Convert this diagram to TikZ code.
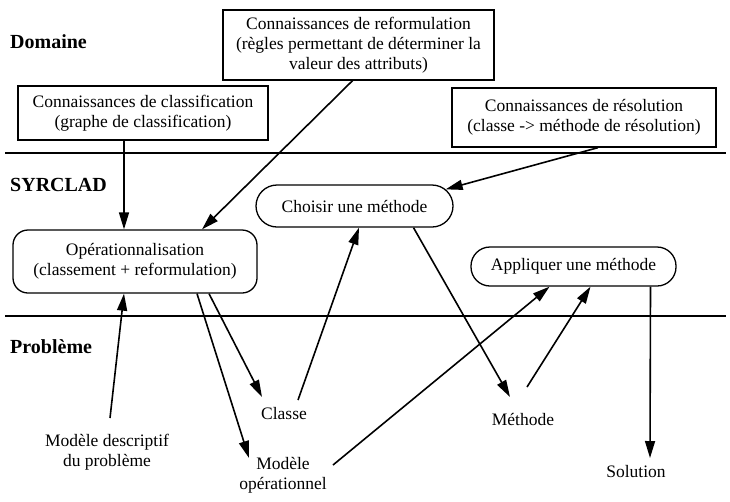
\documentclass[tikz,border=0pt]{standalone}
\usepackage{fontspec}
\setmainfont{Liberation Serif}
\usetikzlibrary{arrows.meta}

\tikzset{
  box/.style={draw, line width=1.3pt, align=center, inner sep=2pt, font=\rmfamily\fontsize{17.5}{20}\selectfont},
  rbox/.style={box, rounded corners=#1},
  txt/.style={align=center, font=\rmfamily\fontsize{17.5}{20}\selectfont},
  lbl/.style={anchor=west, inner sep=0pt, font=\rmfamily\fontsize{20}{24}\selectfont\bfseries},
  arr/.style={->, line width=1.6pt},
}

\begin{document}
\begin{tikzpicture}[x=1pt, y=-1pt, >={Triangle[length=17pt,width=10pt]}]
		\useasboundingbox (0,0) rectangle (730,501);
		% draw the layers
		\draw [line width=1.2pt] (5,153) -- (726,153);
		\draw [line width=1.2pt] (5,316) -- (726,316);
		\node[lbl] (dom) at (10,42) {Domaine};
		\node[lbl] (syr) at (10,185) {SYRCLAD};
		\node[lbl] (pb) at (10,347) {Problème};
		
		% domain knowledge
		\node[box, minimum width=250pt, minimum height=54pt] (clf) at (143,113) {Connaissances de classification\\(graphe de classification)};
		\node[box, minimum width=271pt, minimum height=70pt] (ref) at (358.5,45) {Connaissances de reformulation\\(règles permettant de déterminer la\\valeur des attributs)};
		\node[box, minimum width=264pt, minimum height=59pt] (res) at (584,117.5) {Connaissances de résolution\\(classe -> méthode de résolution)};
		
		% syrclad steps
		\node[rbox=15pt, minimum width=244pt, minimum height=63pt] (opr) at (135,261.5) {Opérationnalisation\\(classement + reformulation)};
		\node[rbox=21pt, minimum width=197pt, minimum height=42pt] (cho) at (354.5,206) {Choisir une méthode};
		\node[rbox=19pt, minimum width=205pt, minimum height=39pt] (app) at (573.5,266.5) {Appliquer une méthode};
		
		% problem data
		\node[txt] (mdesc) at (107,452) {Modèle descriptif\\du problème};
		\node[txt] (mop) at (283,475) {Modèle\\opérationnel};
		\node[txt] (classe) at (284,414) {Classe};
		\node[txt] (meth) at (523,419) {Méthode};
		\node[txt] (sol) at (636,472) {Solution};
		
		% connectors
		\draw [arr] ([xshift=-19pt]clf.south) -- ([xshift=-11pt]opr.north);
		\draw [arr] ([xshift=-6pt]ref.south) -- ([xshift=67pt]opr.north);
		\draw [arr] ([xshift=14pt]res.south) -- ([xshift=-8pt,yshift=-5pt]cho.north east);
		\draw [arr] ([xshift=3pt,yshift=34pt]mdesc.center) -- ([xshift=-11pt]opr.south);
		\draw [arr] ([xshift=62pt]opr.south) -- ([xshift=-34pt,yshift=17pt]mop.center);
		\draw [arr] ([xshift=74pt]opr.south) -- ([xshift=-22pt,yshift=17pt]classe.center);
		\draw [arr] ([xshift=14pt,yshift=14pt]classe.center) -- ([xshift=4.5pt]cho.south);
		\draw [arr] ([xshift=59pt]cho.south) -- ([xshift=-13pt,yshift=22pt]meth.center);
		\draw [arr] ([xshift=50pt,yshift=10pt]mop.center) -- ([xshift=-24pt]app.south);
		\draw [arr] ([xshift=4pt,yshift=32pt]meth.center) -- ([xshift=17pt]app.south);
		\draw [arr] ([xshift=77pt]app.south) -- ([xshift=14pt,yshift=14pt]sol.center);
	\end{tikzpicture}
\end{document}
